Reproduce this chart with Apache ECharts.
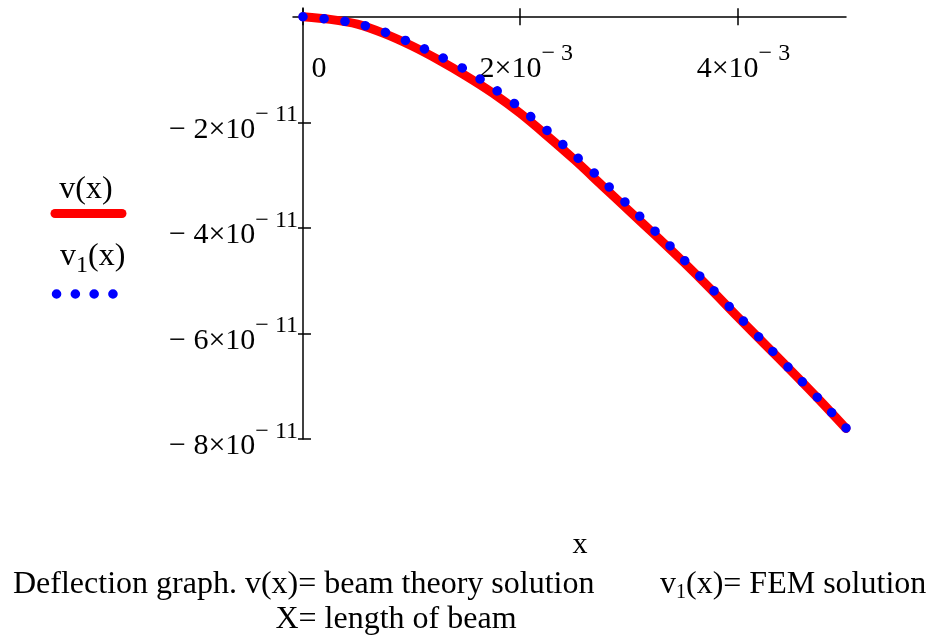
<!DOCTYPE html>
<html lang="en">

<head>
  <meta charset="UTF-8">
  <title>Deflection graph</title>
  <script src="https://cdn.jsdelivr.net/npm/echarts@6/dist/echarts.min.js"></script>
  <style>
    html, body { margin: 0; padding: 0; background: #fff; }
  </style>
</head>

<body>
  <div id="main" style="width: 932px;height:641px"></div>
  <script>
    // x positions along the beam (m)
    var xs = [0, 0.25e-3, 0.5e-3, 0.75e-3, 1e-3, 1.25e-3, 1.5e-3, 1.75e-3, 2e-3, 2.25e-3, 2.5e-3,
      2.75e-3, 3e-3, 3.25e-3, 3.5e-3, 3.75e-3, 4e-3, 4.25e-3, 4.5e-3, 4.75e-3, 5e-3];
    // v(x) beam theory
    var vTheory = [0, -0.05e-11, -0.14e-11, -0.32e-11, -0.55e-11, -0.82e-11, -1.12e-11, -1.45e-11, -1.83e-11,
      -2.26e-11, -2.71e-11, -3.19e-11, -3.67e-11, -4.15e-11, -4.64e-11, -5.15e-11, -5.68e-11, -6.20e-11,
      -6.72e-11, -7.25e-11, -7.80e-11];
    // v1(x) FEM
    var vFem = [0, -0.05e-11, -0.13e-11, -0.29e-11, -0.50e-11, -0.74e-11, -1.01e-11, -1.35e-11, -1.73e-11,
      -2.16e-11, -2.62e-11, -3.09e-11, -3.58e-11, -4.08e-11, -4.59e-11, -5.12e-11, -5.65e-11, -6.18e-11,
      -6.71e-11, -7.24e-11, -7.79e-11];
    // tick labels
    var xTicks = [0, 2e-3, 4e-3];
    var yTicks = [-2e-11, -4e-11, -6e-11, -8e-11];

    var serif = 'Liberation Serif';
    var myChart = echarts.init(document.getElementById('main'));

    function pairs(vals) {
      return xs.map(function (x, i) { return [x, vals[i]]; });
    }

    // mathcad style labels: mantissa x 10 with a raised exponent
    function xLabel(v) {
      if (v === 0) return '{z|0}';
      return '{m|' + Math.round(v / 1e-3) + '×10}{s|− 3}';
    }
    function yLabel(v) {
      return '{m|− ' + Math.abs(Math.round(v / 1e-11)) + '×10}{s|− 11}';
    }
    var labelRich = {
      m: { fontFamily: serif, fontSize: 30, color: '#000', lineHeight: 45, verticalAlign: 'bottom' },
      s: { fontFamily: serif, fontSize: 24, color: '#000', lineHeight: 24, verticalAlign: 'top', padding: [3, 0, 0, 0] },
      z: { fontFamily: serif, fontSize: 30, color: '#000', lineHeight: 45, verticalAlign: 'bottom', padding: [0, 0, 0, 32] }
    };
    var xRich = echarts.util.merge(echarts.util.clone(labelRich), { m: { padding: [0, 0, 0, 12] } });

    var lineCol = '#000';

    var option = {
      animation: false,
      backgroundColor: '#fff',
      grid: { left: 293, right: 86, top: 8, bottom: 202, outerBoundsMode: 'none' },
      xAxis: [
        {
          type: 'value', position: 'top', min: -0.092e-3, max: 5e-3,
          axisLine: { onZero: true, onZeroAxisIndex: 0, lineStyle: { color: lineCol, width: 1.5 } },
          axisTick: { show: true, length: 8.5, customValues: xTicks, lineStyle: { color: lineCol, width: 1.5 } },
          axisLabel: { inside: true, margin: 31, customValues: xTicks, formatter: xLabel, rich: xRich, align: 'center' },
          splitLine: { show: false }
        },
        {
          type: 'value', position: 'bottom', min: -0.092e-3, max: 5e-3,
          axisLine: { show: false, onZero: true, onZeroAxisIndex: 0 },
          axisTick: { show: true, length: 8.5, customValues: xTicks, lineStyle: { color: lineCol, width: 1.5 } },
          axisLabel: { show: false },
          splitLine: { show: false }
        }
      ],
      yAxis: [
        {
          type: 'value', position: 'left', min: -8e-11, max: 0.165e-11,
          axisLine: { onZero: true, onZeroAxisIndex: 0, lineStyle: { color: lineCol, width: 1.5 } },
          axisTick: { show: true, length: 5, customValues: yTicks, lineStyle: { color: lineCol, width: 1.5 } },
          axisLabel: { margin: -5, customValues: yTicks, formatter: yLabel, rich: labelRich },
          splitLine: { show: false }
        },
        {
          type: 'value', position: 'right', min: -8e-11, max: 0.165e-11,
          axisLine: { show: false, onZero: true, onZeroAxisIndex: 0 },
          axisTick: { show: true, length: 8, customValues: yTicks, lineStyle: { color: lineCol, width: 1.5 } },
          axisLabel: { show: false },
          splitLine: { show: false }
        }
      ],
      series: [
        {
          name: 'v(x)', type: 'line', data: pairs(vTheory), showSymbol: false, smooth: 0.3,
          lineStyle: { color: '#ff0000', width: 9, cap: 'round', join: 'round' }
        },
        {
          name: 'v1(x)', type: 'line', data: pairs(vFem), showSymbol: false, smooth: 0.3,
          lineStyle: { color: '#0000ff', width: 9.5, cap: 'round', type: [0.1, 21] }
        }
      ],
      graphic: [
        // legend
        { type: 'text', style: { text: 'v(x)', x: 86, y: 190, fontFamily: serif, fontSize: 32, fill: '#000', align: 'center', verticalAlign: 'middle' } },
        { type: 'line', shape: { x1: 55, y1: 213.5, x2: 122, y2: 213.5 }, style: { stroke: '#ff0000', lineWidth: 9, lineCap: 'round' } },
        {
          type: 'text', style: {
            text: '{n|v}{b|1}{n|(x)}', x: 60, y: 259, align: 'left', verticalAlign: 'middle',
            rich: {
              n: { fontFamily: serif, fontSize: 32, fill: '#000', lineHeight: 32, verticalAlign: 'top' },
              b: { fontFamily: serif, fontSize: 24, fill: '#000', lineHeight: 37, verticalAlign: 'bottom' }
            }
          }
        },
        { type: 'line', shape: { x1: 56.5, y1: 294, x2: 113, y2: 294 }, style: { stroke: '#0000ff', lineWidth: 9.5, lineCap: 'round', lineDash: [0.1, 18.7] } },
        // axis name and caption
        { type: 'text', style: { text: 'x', x: 580, y: 545, fontFamily: serif, fontSize: 30, fill: '#000', align: 'center', verticalAlign: 'middle' } },
        { type: 'text', style: { text: 'Deflection graph. v(x)= beam theory solution', x: 13, y: 585, fontFamily: serif, fontSize: 32, fill: '#000', align: 'left', verticalAlign: 'middle' } },
        {
          type: 'text', style: {
            text: '{n|v}{b|1}{n|(x)= FEM solution}', x: 660, y: 585, align: 'left', verticalAlign: 'middle',
            rich: {
              n: { fontFamily: serif, fontSize: 32, fill: '#000', lineHeight: 36 },
              b: { fontFamily: serif, fontSize: 20, fill: '#000', lineHeight: 20, verticalAlign: 'bottom' }
            }
          }
        },
        { type: 'text', style: { text: 'X= length of beam', x: 396, y: 620, fontFamily: serif, fontSize: 32, fill: '#000', align: 'center', verticalAlign: 'middle' } }
      ]
    };
    myChart.setOption(option);
  </script>
</body>

</html>
